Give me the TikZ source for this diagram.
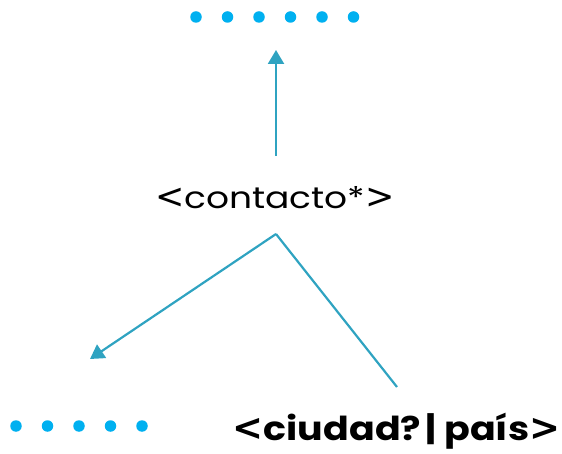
\documentclass[tikz,border=0pt]{standalone}
\usepackage{fontspec}
\setmainfont{Poppins}
\newfontfamily\topfont[FakeStretch=1.2]{Poppins}
\newfontfamily\botfont[FakeStretch=1.15]{Poppins}
\newfontfamily\symfont{DejaVu Sans}
\usetikzlibrary{arrows.meta}
\definecolor{dotblue}{HTML}{00B0F0}
\definecolor{linkblue}{HTML}{2FA3C1}
\tikzset{
  dotmark/.style={circle,fill=dotblue,inner sep=0pt,minimum size=11.5pt},
  link/.style={draw=linkblue,line width=2.2pt},
  arrowlink/.style={link,-{Triangle[length=14pt,width=16pt]}},
  label/.style={inner sep=0pt,anchor=base,text=black}
}
\newcommand{\topsym}[1]{{\fontsize{35}{35}\symfont #1}}
\newcommand{\botsym}[1]{{\fontsize{37}{37}\symfont\bfseries #1}}
\begin{document}
\begin{tikzpicture}[x=1pt,y=-1pt]
\useasboundingbox (0,0) rectangle (562,454);
% top dots
\foreach \i/\x in {1/196,2/227.5,3/259,4/290.5,5/322,6/353.5}
  \node[dotmark] (t\i) at (\x,17) {};
% bottom dots
\foreach \i/\x in {1/16,2/47.5,3/79,4/110.5,5/142}
  \node[dotmark] (b\i) at (\x,426) {};
% texts
\node[label,font=\fontsize{30}{34}\topfont] (contacto) at (275,209) {\topsym{<}contacto*\topsym{>}};
\node[label,font=\fontsize{33}{37}\botfont\bfseries] (ciudad) at (396.5,440) {\botsym{<}ciudad?\kern4pt| país\botsym{>}};
% connectors
\coordinate (upstart) at (276,156);
\coordinate (uptip) at (276,50);
\coordinate (apex) at (276,234);
\coordinate (lefttip) at (90,359);
\coordinate (rightend) at (397,387);
\draw[arrowlink] (upstart) -- (uptip);
\draw[arrowlink] (apex) -- (lefttip);
\draw[link] (apex) -- (rightend);
\end{tikzpicture}
\end{document}
